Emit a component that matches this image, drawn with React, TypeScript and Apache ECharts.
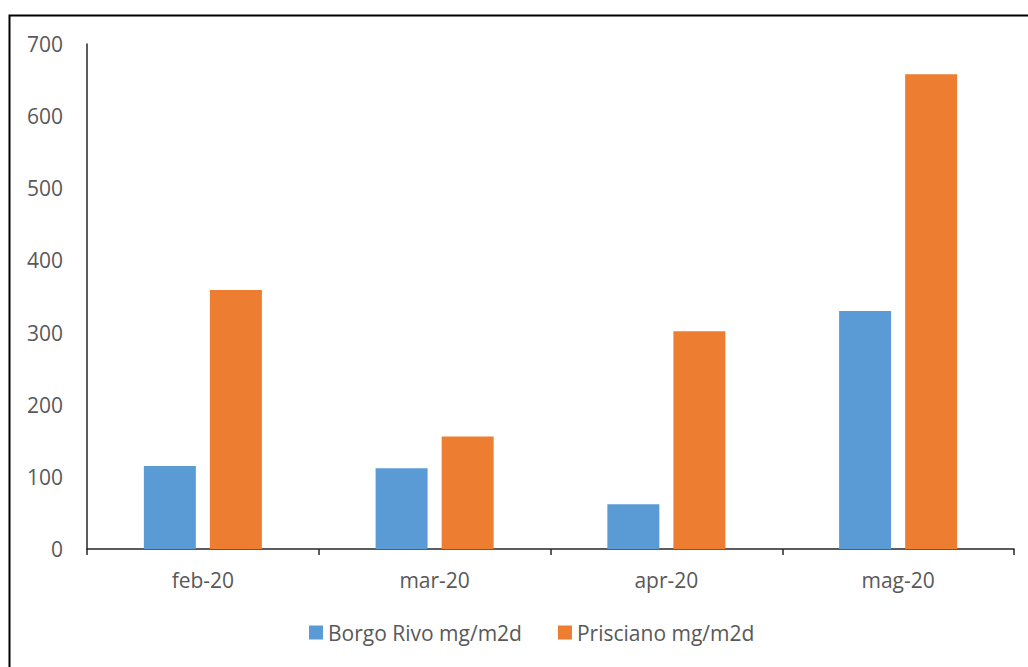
import React, { useEffect, useRef } from "react";
import * as echarts from "echarts";

const categories = ["feb-20", "mar-20", "apr-20", "mag-20"];
const borgoRivo = [115, 112, 62, 330];
const prisciano = [359, 156, 302, 658];
const seriesNames = ["Borgo Rivo mg/m2d", "Prisciano mg/m2d"];

export default function App() {
  const ref = useRef<HTMLDivElement>(null);
  useEffect(() => {
    const chart = echarts.init(ref.current!, null, { renderer: "svg" });
    const font = "'Open Sans', sans-serif";
    chart.setOption({
      animation: false,
      backgroundColor: "#ffffff",
      color: ["#5B9BD5", "#ED7D31"],
      grid: { left: 87, right: 14, top: 44, bottom: 118 },
      legend: {
        data: seriesNames,
        bottom: 19,
        left: 304,
        itemWidth: 14,
        itemHeight: 14,
        itemGap: 36,
        icon: "rect",
        textStyle: { color: "#595959", fontSize: 21, fontFamily: font },
      },
      xAxis: {
        type: "category",
        data: categories,
        axisLine: { lineStyle: { color: "#262626", width: 1.5 } },
        axisTick: { show: true, length: 6, lineStyle: { color: "#262626", width: 1.5 } },
        axisLabel: { color: "#595959", fontSize: 21, fontFamily: font, margin: 20 },
      },
      yAxis: {
        type: "value",
        min: 0,
        max: 700,
        interval: 100,
        axisLine: { show: true, lineStyle: { color: "#262626", width: 1.5 } },
        axisTick: { show: false },
        splitLine: { show: false },
        axisLabel: { color: "#595959", fontSize: 21, fontFamily: font, margin: 24 },
      },
      series: [
        { name: seriesNames[0], type: "bar", data: borgoRivo, barWidth: 52, barGap: "27%" },
        { name: seriesNames[1], type: "bar", data: prisciano, barWidth: 52, barGap: "27%" },
      ],
      graphic: [
        {
          type: "rect",
          shape: { x: 9.5, y: 15.5, width: 1040, height: 700 },
          style: { fill: "none", stroke: "#000000", lineWidth: 2 },
          silent: true,
        },
      ],
    });
    return () => chart.dispose();
  }, []);
  return (
    <div
      ref={ref}
      style={{ position: "fixed", left: 0, top: 0, width: 1028, height: 667 }}
    />
  );
}
